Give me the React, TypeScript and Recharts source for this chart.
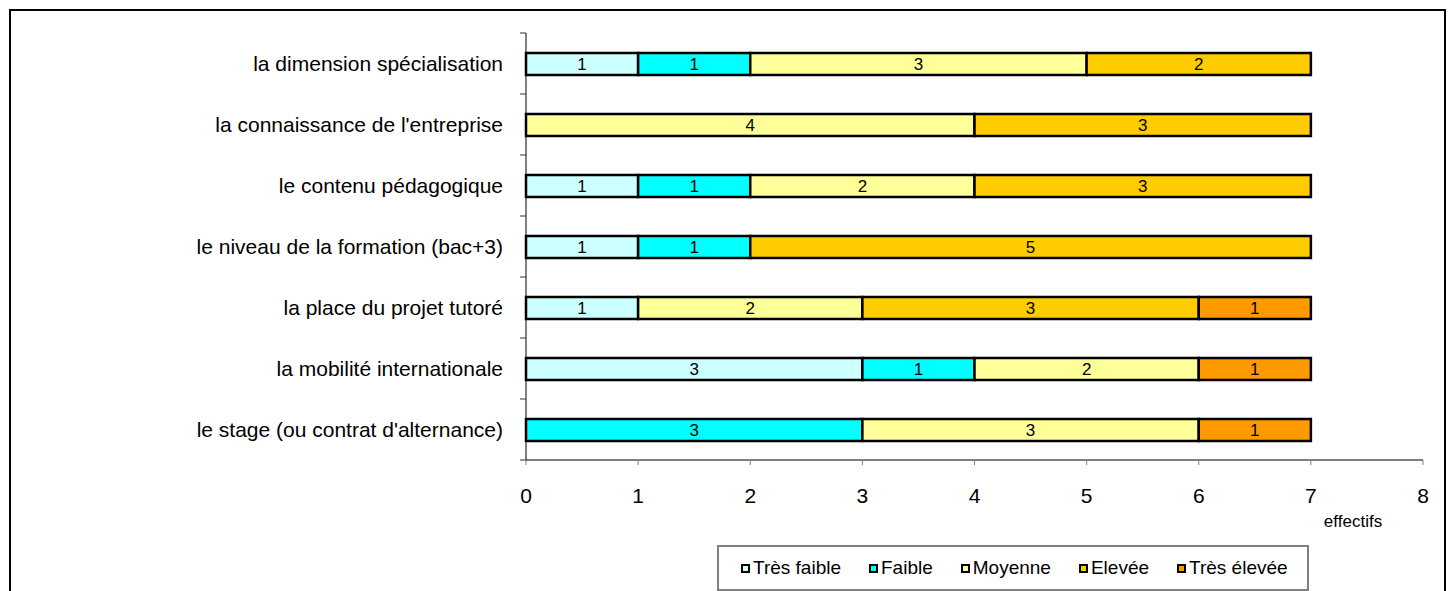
import { BarChart, Bar, XAxis, YAxis, LabelList } from "recharts";

const categories = [
  "la dimension spécialisation",
  "la connaissance de l'entreprise",
  "le contenu pédagogique",
  "le niveau de la formation (bac+3)",
  "la place du projet tutoré",
  "la mobilité internationale",
  "le stage (ou contrat d'alternance)",
];

const tresFaible = [1, 0, 1, 1, 1, 3, 0];
const faible = [1, 0, 1, 1, 0, 1, 3];
const moyenne = [3, 4, 2, 0, 2, 2, 3];
const elevee = [2, 3, 3, 5, 3, 0, 0];
const tresElevee = [0, 0, 0, 0, 1, 1, 1];

const xTicks = [0, 1, 2, 3, 4, 5, 6, 7, 8];

const series = [
  { key: "tf", name: "Très faible", color: "#CCFFFF", values: tresFaible },
  { key: "f", name: "Faible", color: "#00FFFF", values: faible },
  { key: "m", name: "Moyenne", color: "#FFFF99", values: moyenne },
  { key: "e", name: "Elevée", color: "#FFCC00", values: elevee },
  { key: "te", name: "Très élevée", color: "#FF9900", values: tresElevee },
];

const rows = categories.map((name, i) => {
  const row: any = { name };
  series.forEach((s) => (row[s.key] = s.values[i]));
  return row;
});

const FONT = "'Liberation Sans', Arial, sans-serif";

function CategoryTick(props: any) {
  const { x, y, payload, index, visibleTicksCount } = props;
  const half = payload && payload.offset ? payload.offset : 30.5;
  const last = index === (visibleTicksCount ?? categories.length) - 1;
  return (
    <g>
      <line x1={x - 6} x2={x} y1={y - half} y2={y - half} stroke="#333" />
      {last && <line x1={x - 6} x2={x} y1={y + half} y2={y + half} stroke="#333" />}
      <text x={x - 23} y={y} dy="0.35em" textAnchor="end" fontSize={21} fill="#000">
        {payload.value}
      </text>
    </g>
  );
}

const hideZero = (v: any) => (v ? v : "");

export default function App() {
  return (
    <div
      style={{
        position: "fixed",
        left: 0,
        top: 0,
        width: 1452,
        height: 591,
        overflow: "hidden",
        background: "#fff",
        fontFamily: FONT,
      }}
    >
      <div
        style={{
          position: "absolute",
          left: 9,
          top: 9,
          width: 1437,
          height: 700,
          border: "2px solid #000",
          boxSizing: "border-box",
        }}
      />
      <div style={{ position: "absolute", left: 0, top: 0 }}>
        <BarChart
          layout="vertical"
          width={1452}
          height={591}
          data={rows}
          margin={{ top: 33, right: 29, bottom: 71, left: 0 }}
          barSize={22}
          style={{ fontFamily: FONT }}
        >
          <XAxis
            type="number"
            domain={[0, 8]}
            ticks={xTicks}
            interval={0}
            height={60}
            tickSize={5}
            tickMargin={23}
            axisLine={{ stroke: "#000" }}
            tickLine={{ stroke: "#808080" }}
            tick={{ fill: "#000", fontSize: 21 }}
          />
          <YAxis
            type="category"
            dataKey="name"
            width={526}
            tickSize={0}
            tickMargin={0}
            interval={0}
            axisLine={{ stroke: "#000" }}
            tickLine={false}
            tick={<CategoryTick />}
          />
          {series.map((s) => (
            <Bar
              key={s.key}
              dataKey={s.key}
              name={s.name}
              stackId="a"
              fill={s.color}
              stroke="#000"
              strokeWidth={2.5}
              isAnimationActive={false}
            >
              <LabelList
                dataKey={s.key}
                position="center"
                formatter={hideZero}
                fill="#000"
                fontSize={17}
              />
            </Bar>
          ))}
        </BarChart>
      </div>
      <div
        style={{
          position: "absolute",
          left: 1353,
          top: 522,
          transform: "translate(-50%, -50%)",
          fontSize: 17,
          color: "#000",
        }}
      >
        effectifs
      </div>
      <div
        style={{
          position: "absolute",
          left: 717,
          top: 545,
          width: 592,
          height: 46,
          border: "2px solid #808080",
          boxSizing: "border-box",
          display: "flex",
          alignItems: "center",
          paddingLeft: 22,
          gap: 28,
          fontSize: 19,
          color: "#000",
        }}
      >
        {series.map((s) => (
          <div key={s.key} style={{ display: "flex", alignItems: "center" }}>
            <span
              style={{
                display: "inline-block",
                width: 5,
                height: 5,
                border: "2px solid #000",
                background: s.color,
                marginRight: 3,
              }}
            />
            <span>{s.name}</span>
          </div>
        ))}
      </div>
    </div>
  );
}
